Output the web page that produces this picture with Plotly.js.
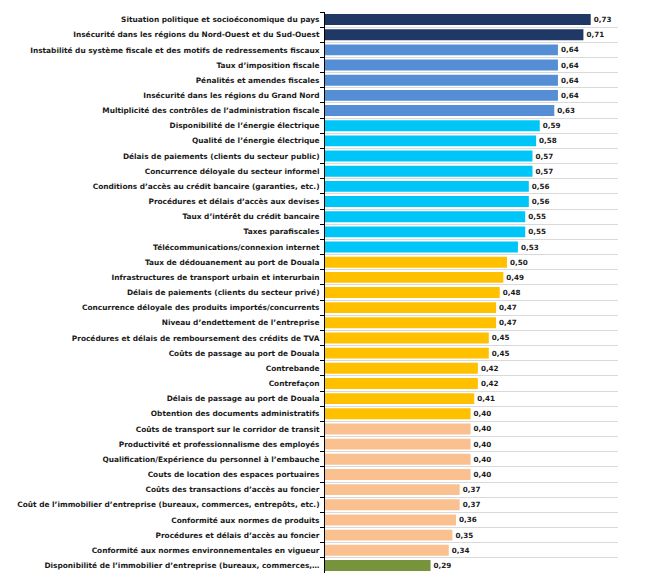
<!DOCTYPE html>
<html>
<head>
<meta charset="utf-8">
<script src="https://cdn.plot.ly/plotly-3.0.1.min.js"></script>
<style>
  html, body { margin: 0; padding: 0; background: #fff; }
  #chart { width: 652px; height: 583px; }
</style>
</head>
<body>
<div id="chart"></div>
<script>
// Obstacles perçus — score moyen par facteur (ordre du graphique, haut -> bas)
const categories = [
    "Situation politique et socioéconomique du pays",
    "Insécurité dans les régions du Nord-Ouest et du Sud-Ouest",
    "Instabilité du système fiscale et des motifs de redressements fiscaux",
    "Taux d’imposition fiscale",
    "Pénalités et amendes fiscales",
    "Insécurité dans les régions du Grand Nord",
    "Multiplicité des contrôles de l’administration fiscale",
    "Disponibilité de l’énergie électrique",
    "Qualité de l’énergie électrique",
    "Délais de paiements (clients du secteur public)",
    "Concurrence déloyale du secteur informel",
    "Conditions d’accès au crédit bancaire (garanties, etc.)",
    "Procédures et délais d’accès aux devises",
    "Taux d’intérêt du crédit bancaire",
    "Taxes parafiscales",
    "Télécommunications/connexion internet",
    "Taux de dédouanement au port de Douala",
    "Infrastructures de transport urbain et interurbain",
    "Délais de paiements (clients du secteur privé)",
    "Concurrence déloyale des produits importés/concurrents",
    "Niveau d’endettement de l’entreprise",
    "Procédures et délais de remboursement des crédits de TVA",
    "Coûts de passage au port de Douala",
    "Contrebande",
    "Contrefaçon",
    "Délais de passage au port de Douala",
    "Obtention des documents administratifs",
    "Coûts de transport sur le corridor de transit",
    "Productivité et professionnalisme des employés",
    "Qualification/Expérience du personnel à l’embauche",
    "Couts de location des espaces portuaires",
    "Coûts des transactions d’accès au foncier",
    "Coût de l’immobilier d’entreprise (bureaux, commerces, entrepôts, etc.)",
    "Conformité aux normes de produits",
    "Procédures et délais d’accès au foncier",
    "Conformité aux normes environnementales en vigueur",
    "Disponibilité de l’immobilier d’entreprise (bureaux, commerces,…",
];

const values = [
    0.73, 0.71, 0.64, 0.64, 0.64, 0.64, 0.63,
    0.59, 0.58, 0.57, 0.57, 0.56, 0.56, 0.55, 0.55, 0.53,
    0.50, 0.49, 0.48, 0.47, 0.47, 0.45, 0.45, 0.42, 0.42, 0.41, 0.40,
    0.40, 0.40, 0.40, 0.40, 0.37, 0.37, 0.36, 0.35, 0.34,
    0.29,
];

// colour group of each bar (index into palette)
const groups = [
    0, 0, 1, 1, 1, 1, 1,
    2, 2, 2, 2, 2, 2, 2, 2, 2,
    3, 3, 3, 3, 3, 3, 3, 3, 3, 3, 3,
    4, 4, 4, 4, 4, 4, 4, 4, 4,
    5,
];

const palette = ["#1F3864", "#558ED5", "#00C5F7", "#FFC000", "#FAC090", "#77933C"];

const labelFont = { family: "'DejaVu Sans', sans-serif", size: 7.4, color: "#1a1a1a", weight: "bold" };

const trace = {
    type: "bar",
    orientation: "h",
    x: values,
    y: categories,
    marker: { color: groups.map(g => palette[g]) },
    width: 0.72,
    text: values.map(v => v.toFixed(2).replace(".", ",")),
    textposition: "outside",
    cliponaxis: false,
    textfont: { ...labelFont, size: 7.2 },
    hovertemplate: "%{y}: %{text}<extra></extra>",
};

const layout = {
    width: 652,
    height: 583,
    margin: { t: 12, b: 10, l: 325, r: 34 },
    paper_bgcolor: "#ffffff",
    plot_bgcolor: "#ffffff",
    showlegend: false,
    font: labelFont,
    xaxis: {
        range: [0, 0.805],
        showticklabels: false,
        showgrid: false,
        zeroline: false,
        showline: false,
        ticks: "",
    },
    yaxis: {
        autorange: "reversed",
        type: "category",
        tickson: "boundaries",
        ticks: "outside",
        ticklen: 4,
        tickcolor: "#000",
        ticklabelstandoff: 3,
        showline: true,
        linecolor: "#000",
        linewidth: 1,
        showgrid: true,
        gridcolor: "#D9D9D9",
        gridwidth: 1,
        tickfont: labelFont,
        automargin: false,
    },
};

Plotly.newPlot("chart", [trace], layout, { displayModeBar: false, staticPlot: true });
</script>
</body>
</html>
